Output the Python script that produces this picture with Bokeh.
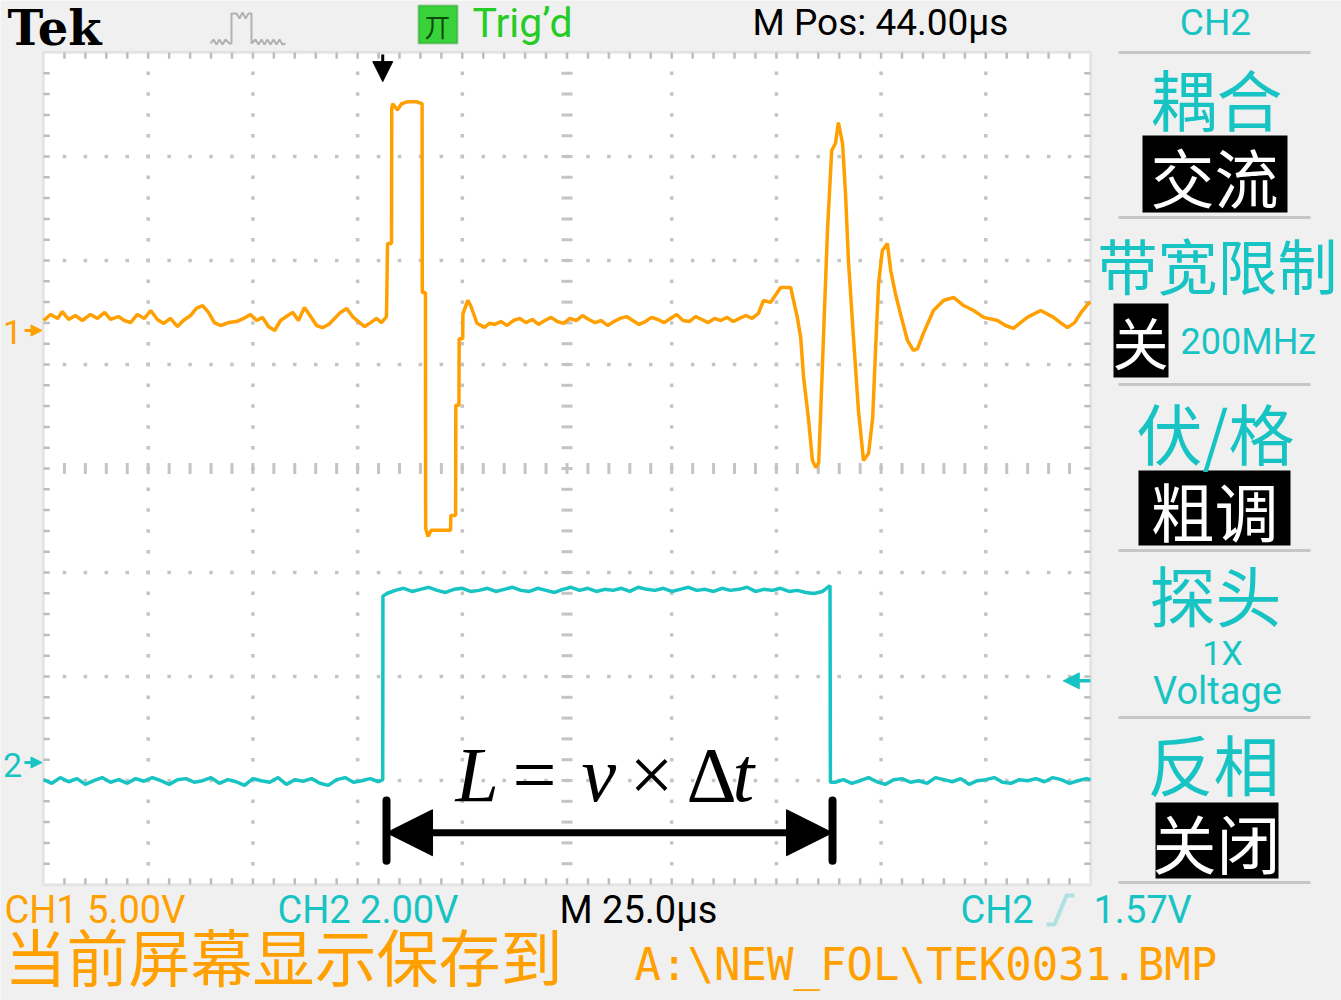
import numpy as np
from bokeh.plotting import figure
from bokeh.models import Range1d, Label, BoxAnnotation, Arrow, NormalHead, PolyAnnotation
from bokeh.embed import file_html
from bokeh.resources import INLINE

# ---------------- data read from the screen ----------------
# time in microseconds relative to the trigger point, voltages in volts
ch1_time = [
    # baseline before the launched pulse
    -81, -79.3, -77.6, -76.5, -75, -73.4, -71.7, -69.8, -68.1, -66.4,
    -65, -63.1, -61.7, -60.2, -58.6, -56.9, -55.4, -53.8, -52.3, -50.7,
    -49, -47.6, -45.9, -44.5, -43, -41.6, -40.2, -38.7, -36.8, -34.9,
    -33.2, -31.6, -30.1, -28.7, -27.3, -25.8, -24.4, -23, -21.5, -20.1,
    -18.7, -17.2, -15.8, -14.4, -12.9, -11.5, -10.1, -8.6, -7.2, -5.8,
    -4.3, -2.9, -1.5, -0.3, 0.9,
    # launched pulse
    1.15, 2.1, 2.15, 2.4, 3.5, 4.5, 6.0, 8.0, 9.4, 9.45,
    10.2, 10.25, 10.8, 11.6, 13.0, 15.0, 16.2, 16.25, 17.4, 17.45,
    18.2, 18.25, 19.1, 19.15, 20.3, 21.0, 22.5, 24.3, 25.5,
    # baseline between pulse and reflection
    26.7, 28.2, 29.7, 31.2, 32.7, 34.2, 35.7, 37.2, 38.7, 40.2,
    41.7, 43.2, 44.7, 46.2, 47.7, 49.2, 50.7, 52.2, 53.7, 55.2,
    56.7, 58.2, 59.7, 61.2, 62.7, 64.2, 65.7, 67.2, 68.7, 70.2,
    71.7, 73.2, 74.7, 76.2, 77.7, 79.2, 80.7, 82.2, 83.7, 85.2,
    86.7, 88.2, 89.7,
    # reflected echo
    90.9, 92.6, 95.0, 97.4, 98.1, 99.0, 99.8, 100.5, 101.7, 102.6,
    103.4, 104.1, 104.5, 105.3, 106.2, 107.2, 108.1, 108.8, 109.8, 110.5,
    111.2, 112.4, 113.6, 114.8, 116.0, 117.0, 117.7, 118.4, 119.3, 120.5,
    121.3, 122.4, 123.6, 125.3, 126.7, 127.7, 129.1, 131.5, 133.9, 136.3,
    138.7, 141.1, 143.5, 146.8, 148.7, 150.6, 152.3, 153.9, 157.1, 160.2,
    161.8, 163.5, 165.2, 166.6, 168.5, 169.0,
]
ch1_volt = [
    0.48, 0.77, 0.58, 0.91, 0.53, 0.72, 0.48, 0.77, 0.58, 0.87,
    0.53, 0.67, 0.48, 0.38, 0.77, 0.58, 0.96, 0.53, 0.34, 0.58,
    0.19, 0.48, 0.72, 1.06, 1.20, 0.87, 0.38, 0.24, 0.38, 0.43,
    0.58, 0.77, 0.48, 0.63, 0.19, 0.0, 0.48, 0.67, 0.87, 0.48,
    1.11, 0.67, 0.24, 0.14, 0.29, 0.58, 0.87, 1.06, 0.67, 0.43,
    0.19, 0.38, 0.58, 0.38, 0.67,
    4.18, 4.18, 10.7, 10.9, 10.6, 10.9, 11.0, 11.0, 10.9, 1.83,
    1.83, -9.5, -9.9, -9.6, -9.6, -9.6, -9.6, -8.9, -8.9, -3.6,
    -3.6, -0.4, -0.4, 0.8, 1.45, 1.2, 0.35, 0.15, 0.35,
    0.29, 0.43, 0.24, 0.48, 0.58, 0.38, 0.53, 0.29, 0.48, 0.63,
    0.43, 0.34, 0.58, 0.48, 0.72, 0.53, 0.38, 0.48, 0.24, 0.43,
    0.58, 0.67, 0.48, 0.29, 0.43, 0.63, 0.53, 0.38, 0.58, 0.77,
    0.48, 0.43, 0.67, 0.53, 0.38, 0.58, 0.48, 0.63, 0.43, 0.58,
    0.72, 0.58, 0.82,
    1.44, 1.35, 2.07, 2.07, 1.44, 0.63, -0.34, -2.26, -4.33, -6.25,
    -6.59, -6.35, -4.33, 0.0, 4.81, 8.65, 8.99, 10.0, 8.99, 6.59,
    3.37, -0.34, -3.85, -6.25, -5.91, -4.18, -0.82, 2.26, 3.85, 4.18,
    2.88, 1.78, 0.82, -0.48, -0.96, -0.87, -0.14, 0.96, 1.44, 1.59,
    1.20, 0.96, 0.63, 0.48, 0.24, 0.10, 0.38, 0.63, 0.96, 0.63,
    0.38, 0.14, 0.38, 0.82, 1.30, 1.35,
]
ch2_time = [
    -81, -79, -77, -75, -73, -71, -69, -67, -65, -63,
    -61, -59, -57, -55, -53, -51, -49, -47, -45, -43,
    -41, -39, -37, -35, -33, -31, -29, -27, -25, -23,
    -21, -19, -17, -15, -13, -11, -9, -7, -5, -3,
    -1, 0,
    0.05, 1, 3, 5, 7, 9, 11, 13, 15, 17,
    19, 21, 23, 25, 27, 29, 31, 33, 35, 37,
    39, 41, 43, 45, 47, 49, 51, 53, 55, 57,
    59, 61, 63, 65, 67, 69, 71, 73, 75, 77,
    79, 81, 83, 85, 87, 89, 91, 93, 95, 97,
    99, 101, 103, 105, 106.8,
    106.9, 108, 110, 112, 114, 116, 118, 120, 122, 124,
    126, 128, 130, 132, 134, 136, 138, 140, 142, 144,
    146, 148, 150, 152, 154, 156, 158, 160, 162, 164,
    166, 168, 169,
]
ch2_volt = [
    -0.33, -0.40, -0.29, -0.37, -0.31, -0.42, -0.35, -0.29, -0.38, -0.33,
    -0.40, -0.31, -0.36, -0.29, -0.35, -0.42, -0.33, -0.31, -0.38, -0.35,
    -0.29, -0.40, -0.33, -0.37, -0.44, -0.31, -0.35, -0.38, -0.29, -0.42,
    -0.33, -0.36, -0.31, -0.40, -0.44, -0.33, -0.29, -0.38, -0.35, -0.31,
    -0.37, -0.33,
    3.20, 3.25, 3.31, 3.35, 3.29, 3.33, 3.37, 3.31, 3.27, 3.33,
    3.35, 3.29, 3.31, 3.35, 3.29, 3.33, 3.37, 3.31, 3.29, 3.35,
    3.31, 3.27, 3.33, 3.37, 3.31, 3.35, 3.29, 3.33, 3.31, 3.35,
    3.29, 3.37, 3.33, 3.31, 3.35, 3.29, 3.33, 3.37, 3.31, 3.33,
    3.29, 3.35, 3.31, 3.33, 3.37, 3.29, 3.33, 3.31, 3.35, 3.29,
    3.31, 3.27, 3.25, 3.29, 3.40,
    -0.38, -0.38, -0.33, -0.40, -0.35, -0.29, -0.37, -0.42, -0.33, -0.31,
    -0.38, -0.35, -0.40, -0.29, -0.33, -0.37, -0.31, -0.42, -0.35, -0.33,
    -0.29, -0.38, -0.40, -0.33, -0.35, -0.31, -0.37, -0.29, -0.33, -0.40,
    -0.35, -0.31, -0.33,
]
assert len(ch1_time) == len(ch1_volt)
assert len(ch2_time) == len(ch2_volt)

# scope settings shown on screen
TIME_PER_DIV = 25.0        # M 25.0us
H_POSITION = 44.0          # M Pos: 44.00us
CH1_V_PER_DIV = 5.0
CH2_V_PER_DIV = 2.0
TRIGGER_LEVEL = 1.57
CH1_GROUND_DIV = 5.327     # channel markers, divisions above graticule bottom
CH2_GROUND_DIV = 1.173
DT_START, DT_END = 0.9, 107.4   # L = v x dt measurement span (us)

# ---------------- layout ----------------
W, H = 1341, 1000
PX_DIV_X, PX_DIV_Y = 104.7, 104.0
GRAT_LEFT_PX, GRAT_BOTTOM_PX = 43.0, 116.0

ORANGE = "#ffa000"
CYAN = "#17c3c3"
GREEN = "#25cc25"
DOT = "#c4c4c4"
FRAME = "#bdbdbd"
SANS = "Roboto"
CJK = "Noto Sans CJK SC"

t_left = H_POSITION - 5 * TIME_PER_DIV
t_right = H_POSITION + 5 * TIME_PER_DIV
x0 = t_left - GRAT_LEFT_PX / PX_DIV_X * TIME_PER_DIV
x1 = x0 + W / PX_DIV_X * TIME_PER_DIV
y0 = -GRAT_BOTTOM_PX / PX_DIV_Y
y1 = y0 + H / PX_DIV_Y

p = figure(width=W, height=H, x_range=Range1d(x0, x1), y_range=Range1d(y0, y1),
           output_backend="svg", toolbar_location=None, min_border=0,
           x_axis_location=None, y_axis_location=None,
           background_fill_color="#f0f0f0", border_fill_color="#f0f0f0",
           outline_line_color=None)
p.grid.visible = False
p.extra_y_ranges = {
    "ch1": Range1d((y0 - CH1_GROUND_DIV) * CH1_V_PER_DIV, (y1 - CH1_GROUND_DIV) * CH1_V_PER_DIV),
    "ch2": Range1d((y0 - CH2_GROUND_DIV) * CH2_V_PER_DIV, (y1 - CH2_GROUND_DIV) * CH2_V_PER_DIV),
}

# graticule background and frame
p.add_layout(BoxAnnotation(left=t_left, right=t_right, bottom=0, top=8,
                           fill_color="white", fill_alpha=1, line_color=FRAME,
                           line_width=3, level="underlay"))

minor_t = t_left + np.arange(1, 50) * TIME_PER_DIV / 5
minor_d = np.arange(1, 40) * 0.2
major_t = [t_left + k * TIME_PER_DIV for k in range(1, 10) if k != 5]
major_d = [1, 2, 3, 5, 6, 7]

gx = [t for t in major_t for _ in minor_d] + [t for _ in major_d for t in minor_t]
gy = [d for _ in major_t for d in minor_d] + [d for d in major_d for _ in minor_t]
p.scatter(gx, gy, marker="square", size=3.5, color=DOT, line_color=None)

# centre cross with ticks
p.scatter([H_POSITION] * len(minor_d), minor_d, marker="dash", size=11, line_color=DOT, line_width=3)
p.scatter(minor_t, [4] * len(minor_t), marker="dash", angle=np.pi / 2, size=11, line_color=DOT, line_width=3)

# ticks along the frame
tk = 0.06
p.segment(minor_t, [8] * len(minor_t), minor_t, [8 - tk] * len(minor_t), line_color=FRAME, line_width=2.5)
p.segment(minor_t, [0] * len(minor_t), minor_t, [tk] * len(minor_t), line_color=FRAME, line_width=2.5)
dt = tk * PX_DIV_Y / PX_DIV_X * TIME_PER_DIV
p.segment([t_left] * len(minor_d), minor_d, [t_left + dt] * len(minor_d), minor_d, line_color=FRAME, line_width=2.5)
p.segment([t_right] * len(minor_d), minor_d, [t_right - dt] * len(minor_d), minor_d, line_color=FRAME, line_width=2.5)

# waveforms
p.line(ch2_time, ch2_volt, y_range_name="ch2", line_color=CYAN, line_width=3.5)
p.line(ch1_time, ch1_volt, y_range_name="ch1", line_color=ORANGE, line_width=3.5)

# trigger position marker
p.add_layout(Arrow(x_start=0, x_end=0, y_start=7.98, y_end=7.72, line_width=3, line_color="black",
                   end=NormalHead(size=20, fill_color="black", line_color="black")))
# channel ground markers
gx0 = t_left - 19 / PX_DIV_X * TIME_PER_DIV
gx1 = t_left - 1.5 / PX_DIV_X * TIME_PER_DIV
p.add_layout(Arrow(x_start=gx0, x_end=gx1, y_start=0, y_end=0, y_range_name="ch1", line_width=3,
                   line_color=ORANGE, end=NormalHead(size=11, fill_color=ORANGE, line_color=ORANGE)))
p.add_layout(Arrow(x_start=gx0, x_end=gx1, y_start=0, y_end=0, y_range_name="ch2", line_width=3,
                   line_color=CYAN, end=NormalHead(size=11, fill_color=CYAN, line_color=CYAN)))
# trigger level marker
p.add_layout(Arrow(x_start=t_right, x_end=t_right - 6.5, y_start=TRIGGER_LEVEL, y_end=TRIGGER_LEVEL,
                   y_range_name="ch2", line_width=3.5, line_color=CYAN,
                   end=NormalHead(size=16, fill_color=CYAN, line_color=CYAN)))

# L = v x dt dimension arrow
ARROW_V, BAR_TOP, BAR_BOT = -1.35, -0.73, -1.89
p.segment([DT_START, DT_END], [BAR_TOP] * 2, [DT_START, DT_END], [BAR_BOT] * 2,
          y_range_name="ch2", line_color="black", line_width=8, line_cap="round")
p.add_layout(Arrow(x_start=DT_START, x_end=DT_END, y_start=ARROW_V, y_end=ARROW_V, y_range_name="ch2",
                   line_width=7, line_color="black",
                   start=NormalHead(size=46, fill_color="black", line_color="black"),
                   end=NormalHead(size=46, fill_color="black", line_color="black")))


def SX(x):
    return x


def SY(y):
    return H - y


def lab(text, x, y, size, color, font=SANS, align="left", baseline="middle", style="normal"):
    p.add_layout(Label(x=SX(x), y=SY(y), x_units="screen", y_units="screen", text=text,
                       text_font=font, text_font_size=f"{size}px", text_color=color,
                       text_align=align, text_baseline=baseline, text_font_style=style))


def box(l, t, r, b, fill, line=None, lw=0):
    p.add_layout(BoxAnnotation(left=SX(l), right=SX(r), top=SY(t), bottom=SY(b),
                               left_units="screen", right_units="screen",
                               top_units="screen", bottom_units="screen",
                               fill_color=fill, fill_alpha=1, line_color=line, line_width=lw))


def polyline(pts, color, lw):
    path = pts + pts[::-1]
    p.add_layout(PolyAnnotation(xs=[SX(a) for a, _ in path], ys=[SY(b) for _, b in path],
                                xs_units="screen", ys_units="screen", fill_alpha=0,
                                line_color=color, line_width=lw))


# formula
SERIF = "Liberation Serif"
FY = 774
lab("L", 455, FY, 78, "black", SERIF, style="italic")
lab("=", 512, FY, 78, "black", SERIF)
lab("v", 581, FY, 78, "black", SERIF, style="italic")
lab("×", 629, FY, 78, "black", SERIF)
lab("Δ", 686, FY, 78, "black", SERIF)
lab("t", 732, FY, 78, "black", SERIF, style="italic")

# channel numbers at left
lab("1", 12, 331, 34, ORANGE, align="center")
lab("2", 12, 764, 34, CYAN, align="center")

# top status bar
lab("Tek", 7, 27, 48, "black", "DejaVu Serif", style="bold")
polyline([(210, 43), (213, 39), (216, 44), (219, 39), (222, 44), (225, 39), (229, 43), (231, 43),
          (231, 13), (236, 13), (239, 18), (242, 12), (245, 18), (248, 13), (251, 13), (251, 43),
          (255, 39), (258, 44), (261, 39), (264, 44), (267, 39), (270, 44), (273, 39), (276, 44),
          (279, 39), (282, 44), (285, 43)], "#222222", 2)
box(418, 5, 457, 43, "#3ad23a", "#0d7a0d", 2)
lab("丌", 437, 25, 26, "#0a4a0a", CJK, align="center")
lab("Trig’d", 472, 22, 41, GREEN)
lab("M Pos: 44.00µs", 752, 22, 37, "black")
lab("CH2", 1215, 22, 37, CYAN, align="center")

# right side menu
for ysep in [52, 217, 384, 550, 717, 882]:
    box(1118, ysep - 1.5, 1310, ysep + 1.5, "#c6c6c6")
box(1142, 135, 1287, 212, "black")
box(1113, 303, 1168, 377, "black")
box(1138, 470, 1290, 545, "black")
box(1155, 802, 1278, 878, "black")
lab("耦合", 1216, 96, 66, CYAN, CJK, align="center")
lab("交流", 1214, 174, 64, "white", CJK, align="center")
lab("带宽限制", 1217, 263, 60, CYAN, CJK, align="center")
lab("关", 1140, 340, 56, "white", CJK, align="center")
lab("200MHz", 1180, 341, 36, CYAN)
lab("伏/格", 1215, 430, 66, CYAN, CJK, align="center")
lab("粗调", 1214, 508, 64, "white", CJK, align="center")
lab("探头", 1215, 592, 66, CYAN, CJK, align="center")
lab("1X", 1222, 652, 34, CYAN, align="center")
lab("Voltage", 1217, 690, 38, CYAN, align="center")
lab("反相", 1213, 761, 66, CYAN, CJK, align="center")
lab("关闭", 1216, 840, 64, "white", CJK, align="center")

# bottom status bar
lab("CH1  5.00V", 4, 909, 38, ORANGE)
lab("CH2  2.00V", 277, 909, 38, CYAN)
lab("M 25.0µs", 559, 909, 38, "black")
lab("CH2", 960, 909, 38, CYAN)
polyline([(1046, 924), (1054, 924), (1066, 895), (1074, 895)], CYAN, 4)
lab("1.57V", 1093, 909, 38, CYAN)
lab("当前屏幕显示保存到", 4, 954, 62, ORANGE, CJK)
lab("A:\\NEW_FOL\\TEK0031.BMP", 634, 964, 44, ORANGE, "DejaVu Sans Mono")

open("out.html", "w").write(file_html(p, INLINE))
